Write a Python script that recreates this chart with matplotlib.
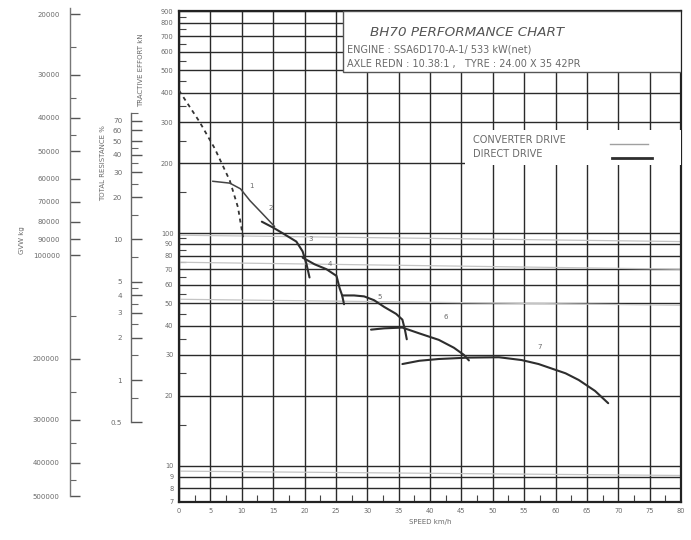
import numpy as np
import matplotlib
matplotlib.use('Agg')
import matplotlib.pyplot as plt
import matplotlib.ticker as mticker
from matplotlib.patches import Rectangle
from matplotlib.lines import Line2D

W, H = 691, 540

# --- data: speed in km/h, tractive effort in kN ---
dash_speed = [0, 3.3, 5.7, 8.1, 9.4, 10.2]
dash_te = [410, 300, 231, 168, 129, 96]

conv_speed = [5.4, 8.1, 9.8, 11.3, 13.2, 15.2]
conv_te = [167, 164, 155, 138, 122, 107]

g2_speed = [13.2, 14.9, 16.5, 18.7, 19.7, 20.3, 20.8]
g2_te = [112, 106, 100, 92, 83.5, 74, 64.5]
g3_speed = [19.7, 21.6, 23.5, 25.1, 25.6, 26.0, 26.3]
g3_te = [78.5, 73.5, 70, 65.5, 58, 54, 49.5]
g4_speed = [26.0, 27.9, 29.5, 31.1, 32.7, 34.6, 35.6, 36.0, 36.3]
g4_te = [54, 54, 53.5, 51.5, 48.2, 45, 42.5, 38.5, 35]
g5_speed = [30.6, 32.7, 35.6, 38.3, 41.4, 43.8, 45.4, 46.2]
g5_te = [38.5, 39, 39.3, 37.1, 34.8, 32.2, 30, 28.4]
g6_speed = [35.6, 38.3, 41.4, 46.2, 51.0, 54.6, 57.3, 59.4, 61.6, 63.7, 66.3, 68.4]
g6_te = [27.4, 28.3, 28.8, 29.2, 29.3, 28.5, 27.4, 26.2, 25, 23.4, 21, 18.6]

gear_names = ['1', '2', '3', '4', '5', '6', '7']
gear_lbl_speed = [11.6, 14.6, 21.0, 24.0, 31.9, 42.5, 57.5]
gear_lbl_te = [160, 128, 94, 74, 53, 43.5, 32.5]

# faint grey lines across the grid (start / end value)
faint_ends = [0, 80]
faint_te = [[98, 92], [75, 70], [52, 49], [9.5, 9.1]]

speed_ticks = list(range(0, 81, 5))
te_major = [7, 8, 9, 10, 20, 30, 40, 50, 60, 70, 80, 90, 100,
            200, 300, 400, 500, 600, 700, 800, 900]
te_minor = [15, 25, 35, 45, 55, 65, 75, 85, 95,
            150, 250, 350, 450, 550, 650, 750, 850]

wt_major = [20000, 30000, 40000, 50000, 60000, 70000, 80000, 90000,
            100000, 200000, 300000, 400000, 500000]
wt_minor = [25000, 35000, 45000, 150000, 250000, 350000, 450000]

res_major = [70, 60, 50, 40, 30, 20, 10, 5, 4, 3, 2, 1, 0.5]
res_minor = [80, 45, 35, 25, 15, 7.5, 4.5, 3.5, 2.5, 1.5, 0.75]

legend_names = ['CONVERTER DRIVE', 'DIRECT DRIVE']

txt = '#6a6a6a'
ink = '#2a2a2a'


def rect(l, t, r, b):
    return [l / W, 1 - b / H, (r - l) / W, (b - t) / H]


def afx(px):
    return (px - 179) / (681 - 179)


def afy(py):
    return (502 - py) / (502 - 11)


fig = plt.figure(figsize=(W / 100, H / 100), dpi=100)
fig.patch.set_facecolor('white')

# main chart
ax = fig.add_axes(rect(179, 11, 681, 502))
ax.set_yscale('log')
ax.set_xlim(0, 80)
ax.set_ylim(7, 900)
ax.set_xticks(speed_ticks)
ax.set_xticklabels([str(s) for s in speed_ticks])
ax.set_yticks(te_major)
ax.set_yticklabels([str(v) for v in te_major])
ax.yaxis.set_minor_locator(mticker.FixedLocator(te_minor))
ax.yaxis.set_minor_formatter(mticker.NullFormatter())
ax.xaxis.set_minor_locator(mticker.MultipleLocator(2.5))
ax.tick_params(axis='both', which='major', length=0, pad=4, labelsize=4.8, labelcolor=txt)
ax.tick_params(axis='y', which='minor', direction='in', length=5, width=0.8, color='#444')
ax.tick_params(axis='x', which='minor', direction='in', length=5, width=0.8, color='#444')
ax.grid(which='major', color=ink, lw=1.0)
ax.set_axisbelow(True)
for s in ax.spines.values():
    s.set_linewidth(1.6)
    s.set_color('#222')
ax.set_xlabel('SPEED km/h', fontsize=5, color=txt, labelpad=4)

for a, b in faint_te:
    ax.plot(faint_ends, [a, b], color='#c4c4c4', lw=0.9, zorder=1.5)

ax.plot(dash_speed, dash_te, color='#333', lw=1.3, ls=(0, (2.2, 2.2)), zorder=4)
ax.plot(conv_speed, conv_te, color='#444', lw=1.1, zorder=4)
for xs, ys in [(g2_speed, g2_te), (g3_speed, g3_te), (g4_speed, g4_te),
               (g5_speed, g5_te), (g6_speed, g6_te)]:
    ax.plot(xs, ys, color='#2e2e2e', lw=1.5, zorder=4, solid_capstyle='round')

for n, sx, sy in zip(gear_names, gear_lbl_speed, gear_lbl_te):
    ax.text(sx, sy, n, fontsize=5, color=txt, ha='center', va='center', zorder=5)

# title block
ax.add_patch(Rectangle((afx(343), afy(72)), 1 - afx(343), afy(11) - afy(72),
                       transform=ax.transAxes, fc='white', ec='#555', lw=1.0, zorder=3))
ax.text(afx(370), afy(32), 'BH70 PERFORMANCE CHART', transform=ax.transAxes,
        fontsize=9.7, style='italic', color='#555', va='center', zorder=5)
ax.text(afx(347), afy(50), 'ENGINE : SSA6D170-A-1/ 533 kW(net)', transform=ax.transAxes,
        fontsize=7, color=txt, va='center', zorder=5)
ax.text(afx(347), afy(64), 'AXLE REDN : 10.38:1 ,   TYRE : 24.00 X 35 42PR', transform=ax.transAxes,
        fontsize=7, color=txt, va='center', zorder=5)

# legend block: names on the left, line samples on the right
ax.add_patch(Rectangle((afx(465), afy(165)), 1 - afx(465), afy(130) - afy(165),
                       transform=ax.transAxes, fc='white', ec='none', zorder=3))
ax.text(afx(473), afy(140), legend_names[0], transform=ax.transAxes,
        fontsize=7, color=txt, va='center', zorder=5)
ax.text(afx(473), afy(154), legend_names[1], transform=ax.transAxes,
        fontsize=7, color=txt, va='center', zorder=5)
ax.add_line(Line2D([afx(610), afx(648)], [afy(144), afy(144)], transform=ax.transAxes,
                   color='#a0a0a0', lw=1.0, zorder=5))
ax.add_line(Line2D([afx(612), afx(652)], [afy(158), afy(158)], transform=ax.transAxes,
                   color='#2e2e2e', lw=2.0, zorder=5))

# weight scale (far left)
ax_w = fig.add_axes(rect(69.5, 8, 70.5, 496))
ax_w.set_yscale('log')
ax_w.set_ylim(500000, 19210)
ax_w.set_xticks([])
ax_w.set_yticks(wt_major)
ax_w.set_yticklabels([str(v) for v in wt_major])
ax_w.yaxis.set_minor_locator(mticker.FixedLocator(wt_minor))
ax_w.yaxis.set_minor_formatter(mticker.NullFormatter())
ax_w.tick_params(axis='y', which='major', direction='in', length=7, width=1.0,
                 color='#555', labelsize=5, labelcolor=txt, pad=7)
ax_w.tick_params(axis='y', which='minor', direction='in', length=4, width=0.8, color='#666')
ax_w.patch.set_alpha(0)
for k in ['top', 'right', 'bottom']:
    ax_w.spines[k].set_visible(False)
ax_w.spines['left'].set_color('#777')
ax_w.spines['left'].set_linewidth(1.0)

# total resistance scale (middle)
ax_r = fig.add_axes(rect(130.5, 112.6, 131.5, 422.3))
ax_r.set_yscale('log')
ax_r.set_ylim(0.5, 80)
ax_r.set_xticks([])
ax_r.set_yticks(res_major)
ax_r.set_yticklabels(['0.5' if v == 0.5 else str(int(v)) for v in res_major])
ax_r.yaxis.set_minor_locator(mticker.FixedLocator(res_minor))
ax_r.yaxis.set_minor_formatter(mticker.NullFormatter())
ax_r.tick_params(axis='y', which='major', direction='in', length=8, width=1.0,
                 color='#555', labelsize=5.2, labelcolor=txt, pad=6)
ax_r.tick_params(axis='y', which='minor', direction='in', length=5, width=0.8, color='#666')
ax_r.patch.set_alpha(0)
for k in ['top', 'right', 'bottom']:
    ax_r.spines[k].set_visible(False)
ax_r.spines['left'].set_color('#666')
ax_r.spines['left'].set_linewidth(1.0)

fig.text(22 / W, 1 - 240 / H, 'GVW kg', rotation=90, fontsize=5, color=txt,
         ha='center', va='center')
fig.text(103 / W, 1 - 163 / H, 'TOTAL RESISTANCE %', rotation=90, fontsize=5, color=txt,
         ha='center', va='center')
fig.text(141 / W, 1 - 70 / H, 'TRACTIVE EFFORT kN', rotation=90, fontsize=5, color=txt,
         ha='center', va='center')

fig.savefig('out.png', dpi=100, facecolor='white')
